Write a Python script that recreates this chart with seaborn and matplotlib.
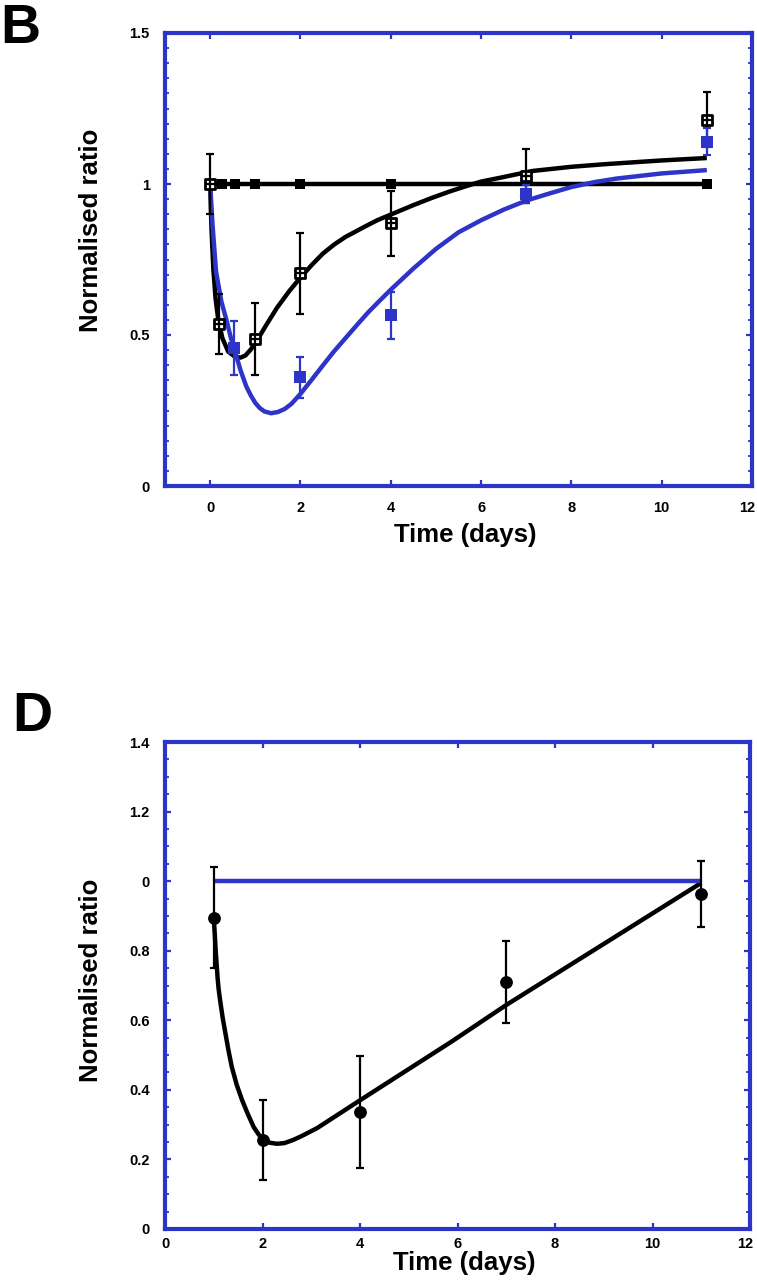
import numpy as np
import pandas as pd
import matplotlib
matplotlib.use("Agg")
import matplotlib.pyplot as plt
import matplotlib.transforms as mtransforms
from matplotlib.ticker import MultipleLocator, FixedLocator, FixedFormatter
import seaborn as sns

sns.set_style("white")
plt.rcParams['font.family'] = ['Liberation Sans', 'DejaVu Sans']
plt.rcParams['font.weight'] = 'bold'
plt.rcParams['text.color'] = 'black'
plt.rcParams['axes.labelcolor'] = 'black'
plt.rcParams['xtick.color'] = 'black'
plt.rcParams['ytick.color'] = 'black'
plt.rcParams['lines.solid_joinstyle'] = 'round'
plt.rcParams['lines.solid_capstyle'] = 'butt'

FRAME = '#2D34C8'
BLUE = '#2D34C8'

# ---------------- Panel B data ----------------
b_ctrl_x = [0, 0.27, 0.55, 1, 2, 4, 11]
b_ctrl_y = [1, 1, 1, 1, 1, 1, 1]

b_black_x = [0, 0.2, 1, 2, 4, 7, 11]
b_black_y = [1.0, 0.536, 0.487, 0.705, 0.87, 1.027, 1.213]
b_black_err = [0.1, 0.1, 0.12, 0.134, 0.107, 0.09, 0.09]

b_blue_x = [0.53, 2, 4, 7, 11]
b_blue_y = [0.457, 0.36, 0.566, 0.967, 1.14]
b_blue_err = [0.09, 0.067, 0.078, 0.03, 0.045]

b_black_fit_x = [0, 0.03, 0.07, 0.12, 0.18, 0.27, 0.4, 0.55, 0.67, 0.78, 0.9, 1.03, 1.25,
                 1.48, 1.75, 2.0, 2.25, 2.5, 2.75, 3.0, 3.44, 3.7, 4.18, 4.5, 4.91, 5.3,
                 5.67, 6.0, 6.4, 7.13, 8.0, 8.78, 10, 11]
b_black_fit_y = [1.0, 0.85, 0.72, 0.62, 0.55, 0.49, 0.445, 0.428, 0.425, 0.432, 0.452, 0.48, 0.535,
                 0.59, 0.645, 0.69, 0.732, 0.77, 0.8, 0.825, 0.86, 0.88, 0.91, 0.93, 0.954, 0.975,
                 0.993, 1.008, 1.02, 1.043, 1.057, 1.066, 1.078, 1.086]

b_blue_fit_x = [0, 0.05, 0.13, 0.25, 0.36, 0.46, 0.56, 0.68, 0.8, 0.9, 1.0, 1.1, 1.2, 1.35,
                1.5, 1.65, 1.8, 2.0, 2.25, 2.5, 2.75, 3.0, 3.25, 3.5, 3.75, 4.0, 4.5, 5.0,
                5.5, 6.0, 6.5, 7.0, 7.5, 8.0, 8.5, 9.0, 10, 11]
b_blue_fit_y = [1.0, 0.87, 0.71, 0.61, 0.55, 0.49, 0.44, 0.38, 0.33, 0.3, 0.275, 0.258, 0.247, 0.241,
                0.245, 0.255, 0.272, 0.305, 0.352, 0.40, 0.447, 0.49, 0.533, 0.575, 0.613, 0.65, 0.72, 0.785,
                0.84, 0.88, 0.915, 0.945, 0.968, 0.99, 1.006, 1.018, 1.035, 1.046]

b_xticks = [0, 2, 4, 6, 8, 10, 12]
b_yticks = [0, 0.5, 1, 1.5]
b_yticklabels = ['0', '0.5', '1', '1.5']

# ---------------- Panel D data ----------------
d_x = [1, 2, 4, 7, 11]
d_y = [0.895, 0.256, 0.336, 0.71, 0.963]
d_err = [0.145, 0.115, 0.16, 0.117, 0.096]

d_fit_x = [1.0, 1.02, 1.04, 1.06, 1.08, 1.1, 1.13, 1.18, 1.23, 1.3, 1.37, 1.47, 1.58, 1.7,
           1.82, 1.92, 2.02, 2.15, 2.3, 2.45, 2.63, 2.8, 3.12, 4.0, 5.86, 7.0, 11]
d_fit_y = [0.895, 0.85, 0.8, 0.76, 0.72, 0.69, 0.658, 0.61, 0.57, 0.515, 0.466, 0.415, 0.371, 0.33,
           0.293, 0.272, 0.256, 0.248, 0.245, 0.247, 0.256, 0.267, 0.29, 0.37, 0.537, 0.644, 0.995]

d_ref_x = [1, 11]
d_ref_y = [1, 1]

d_xticks = [0, 2, 4, 6, 8, 10, 12]
d_yticks = [0, 0.2, 0.4, 0.6, 0.8, 1.0, 1.2, 1.4]
d_yticklabels = ['0', '0.2', '0.4', '0.6', '0.8', '0', '1.2', '1.4']

xlabel = 'Time (days)'
ylabel = 'Normalised ratio'

fig = plt.figure(figsize=(7.57, 12.8), dpi=100)
axB = fig.add_axes([165/757, 1-486/1280, 587/757, 453/1280])
axD = fig.add_axes([165/757, 1-1229/1280, 585/757, 487/1280])


def style_axes(ax, xpad, ypad):
    for s in ax.spines.values():
        s.set_color(FRAME)
        s.set_linewidth(3.0)
        s.set_visible(True)
    ax.tick_params(which='both', direction='in', color=FRAME, top=True, right=True,
                   bottom=True, left=True, labelsize=10.5, labelcolor='black')
    ax.tick_params(which='major', length=4.5, width=1.6)
    ax.tick_params(which='minor', length=3, width=1.3)
    ax.tick_params(axis='x', pad=xpad)
    ax.tick_params(axis='y', pad=ypad)
    for lab in ax.get_xticklabels() + ax.get_yticklabels():
        lab.set_fontweight('bold')
        lab.set_color('black')
    # nudge the last x label ("12") inward so it stays on the canvas
    last = ax.get_xticklabels()[-1]
    last.set_transform(last.get_transform() +
                       mtransforms.ScaledTranslation(-5/100, 0, fig.dpi_scale_trans))
    ax.grid(False)


# ---------- Panel B ----------
lw_fit = 3.2
sns.lineplot(x=b_ctrl_x, y=b_ctrl_y, ax=axB, color='black', lw=lw_fit, sort=False,
             estimator=None, zorder=2)
sns.lineplot(x=b_black_fit_x, y=b_black_fit_y, ax=axB, color='black', lw=lw_fit, sort=False,
             estimator=None, zorder=3)
sns.lineplot(x=b_blue_fit_x, y=b_blue_fit_y, ax=axB, color=BLUE, lw=lw_fit, sort=False,
             estimator=None, zorder=4)
axB.errorbar(b_black_x, b_black_y, yerr=b_black_err, fmt='none', ecolor='black',
             elinewidth=1.6, capsize=3, capthick=1.6, zorder=5)
axB.errorbar(b_blue_x, b_blue_y, yerr=b_blue_err, fmt='none', ecolor=BLUE,
             elinewidth=1.6, capsize=3, capthick=1.6, zorder=5)
sns.scatterplot(x=b_ctrl_x, y=b_ctrl_y, ax=axB, marker='s', s=60, color='black',
                edgecolor='black', linewidth=0, zorder=6)
sns.scatterplot(x=b_blue_x, y=b_blue_y, ax=axB, marker='s', s=65, color=BLUE,
                edgecolor=BLUE, linewidth=0, zorder=6)
sns.scatterplot(x=b_black_x, y=b_black_y, ax=axB, marker='s', s=55, color='white',
                edgecolor='black', linewidth=2.0, zorder=7)
sns.scatterplot(x=b_black_x, y=b_black_y, ax=axB, marker='+', s=45, color='black',
                linewidth=1.6, zorder=8)

axB.set_xlim(-1, 12)
axB.set_ylim(0, 1.5)
axB.xaxis.set_major_locator(FixedLocator(b_xticks))
axB.set_xticklabels([str(t) for t in b_xticks])
axB.yaxis.set_major_locator(FixedLocator(b_yticks))
axB.yaxis.set_major_formatter(FixedFormatter(b_yticklabels))
axB.yaxis.set_minor_locator(MultipleLocator(0.05))
style_axes(axB, xpad=11, ypad=11)
axB.set_xlabel(xlabel, fontsize=18.5, fontweight='bold', color='black')
axB.set_ylabel(ylabel, fontsize=18.5, fontweight='bold', color='black')
axB.xaxis.set_label_coords(0.512, -0.082)
axB.yaxis.set_label_coords(-0.106, 0.565)

# ---------- Panel D ----------
sns.lineplot(x=d_fit_x, y=d_fit_y, ax=axD, color='black', lw=lw_fit, sort=False,
             estimator=None, zorder=3)
sns.lineplot(x=d_ref_x, y=d_ref_y, ax=axD, color=BLUE, lw=lw_fit, sort=False,
             estimator=None, zorder=4)
axD.errorbar(d_x, d_y, yerr=d_err, fmt='none', ecolor='black',
             elinewidth=1.6, capsize=3, capthick=1.6, zorder=5)
sns.scatterplot(x=d_x, y=d_y, ax=axD, marker='o', s=85, color='black',
                edgecolor='black', linewidth=0, zorder=6)

axD.set_xlim(0, 12)
axD.set_ylim(0, 1.4)
axD.xaxis.set_major_locator(FixedLocator(d_xticks))
axD.set_xticklabels([str(t) for t in d_xticks])
axD.yaxis.set_major_locator(FixedLocator(d_yticks))
axD.yaxis.set_major_formatter(FixedFormatter(d_yticklabels))
axD.yaxis.set_minor_locator(MultipleLocator(0.05))
style_axes(axD, xpad=6, ypad=11)
axD.set_xlabel(xlabel, fontsize=18.5, fontweight='bold', color='black')
axD.set_ylabel(ylabel, fontsize=18.5, fontweight='bold', color='black')
axD.xaxis.set_label_coords(0.512, -0.045)
axD.yaxis.set_label_coords(-0.106, 0.51)

fig.text(0.0, 1.0 - 3/1280, 'B', fontsize=40, fontweight='bold', ha='left', va='top', color='black')
fig.text(12/757, 1 - 691/1280, 'D', fontsize=40, fontweight='bold', ha='left', va='top', color='black')

fig.savefig('out.png', dpi=100, facecolor='white')
